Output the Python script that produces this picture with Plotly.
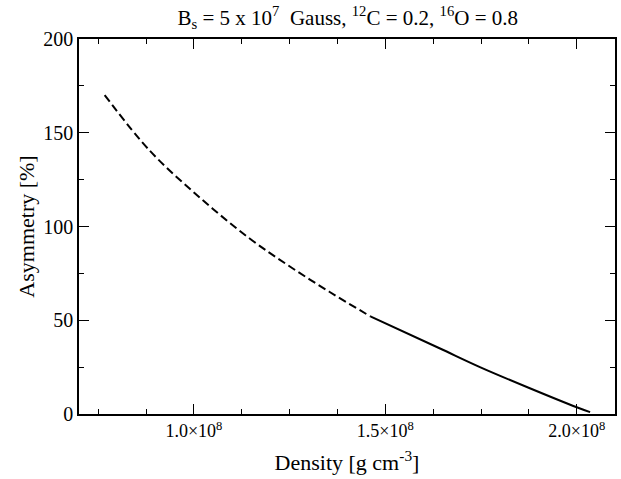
import plotly.graph_objects as go

# Data
dens_dashed = [0.767e8, 0.8855e8, 1.0157e8, 1.1457e8, 1.2498e8, 1.3539e8, 1.4624e8]
asym_dashed = [170.1, 140.3, 115.4, 93.6, 78.8, 65.2, 51.9]
dens_solid = [1.4624e8, 1.6402e8, 1.7487e8, 1.8744e8, 2.0e8, 2.035e8]
asym_solid = [51.9, 35.2, 24.9, 14.0, 3.6, 1.0]

x_tickvals = [1.0e8, 1.5e8, 2.0e8]
x_ticktext = ["1.0×10<sup>8</sup>", "1.5×10<sup>8</sup>", "2.0×10<sup>8</sup>"]
y_tickvals = [0, 50, 100, 150, 200]

FONT = "Liberation Serif, Times New Roman, serif"

fig = go.Figure()
fig.add_trace(go.Scatter(x=dens_dashed, y=asym_dashed, mode="lines",
                         line=dict(color="black", width=2, dash="8px,4px", shape="spline"),
                         showlegend=False))
fig.add_trace(go.Scatter(x=dens_solid, y=asym_solid, mode="lines",
                         line=dict(color="black", width=2, shape="spline"),
                         showlegend=False))

fig.update_layout(
    width=621, height=479,
    margin=dict(l=79, r=4, t=39, b=65),
    paper_bgcolor="white", plot_bgcolor="white",
    font=dict(family=FONT, color="black", size=18),
    title=dict(text="B<sub>s</sub> = 5 x 10<sup>7</sup>  Gauss, <sup>12</sup>C = 0.2, <sup>16</sup>O = 0.8",
               x=0.56, xanchor="center", y=0.963, yanchor="middle",
               font=dict(family=FONT, size=21, color="black")),
)
fig.update_xaxes(
    range=[0.7e8, 2.1e8], tickmode="array", tickvals=x_tickvals, ticktext=x_ticktext,
    ticks="inside", ticklen=10, tickwidth=1, tickcolor="black",
    showline=True, linecolor="black", linewidth=1.5, mirror="allticks",
    showgrid=False, zeroline=False,
    minor=dict(tickmode="linear", tick0=0, dtick=1.25e7, ticks="inside", ticklen=5,
               tickcolor="black", tickwidth=1, showgrid=False),
    title=dict(text="Density [g cm<sup>-3</sup>]", font=dict(family=FONT, size=22), standoff=14),
    tickfont=dict(family=FONT, size=18),
)
fig.update_yaxes(
    range=[0, 200], tickmode="array", tickvals=y_tickvals,
    ticks="inside", ticklen=10, tickwidth=1, tickcolor="black",
    showline=True, linecolor="black", linewidth=1.5, mirror="allticks",
    showgrid=False, zeroline=False,
    minor=dict(tickmode="linear", tick0=0, dtick=25, ticks="inside", ticklen=5,
               tickcolor="black", tickwidth=1, showgrid=False),
    title=dict(text="Asymmetry [%]", font=dict(family=FONT, size=22), standoff=3),
    tickfont=dict(family=FONT, size=20),
)

fig.write_html("out.html")
